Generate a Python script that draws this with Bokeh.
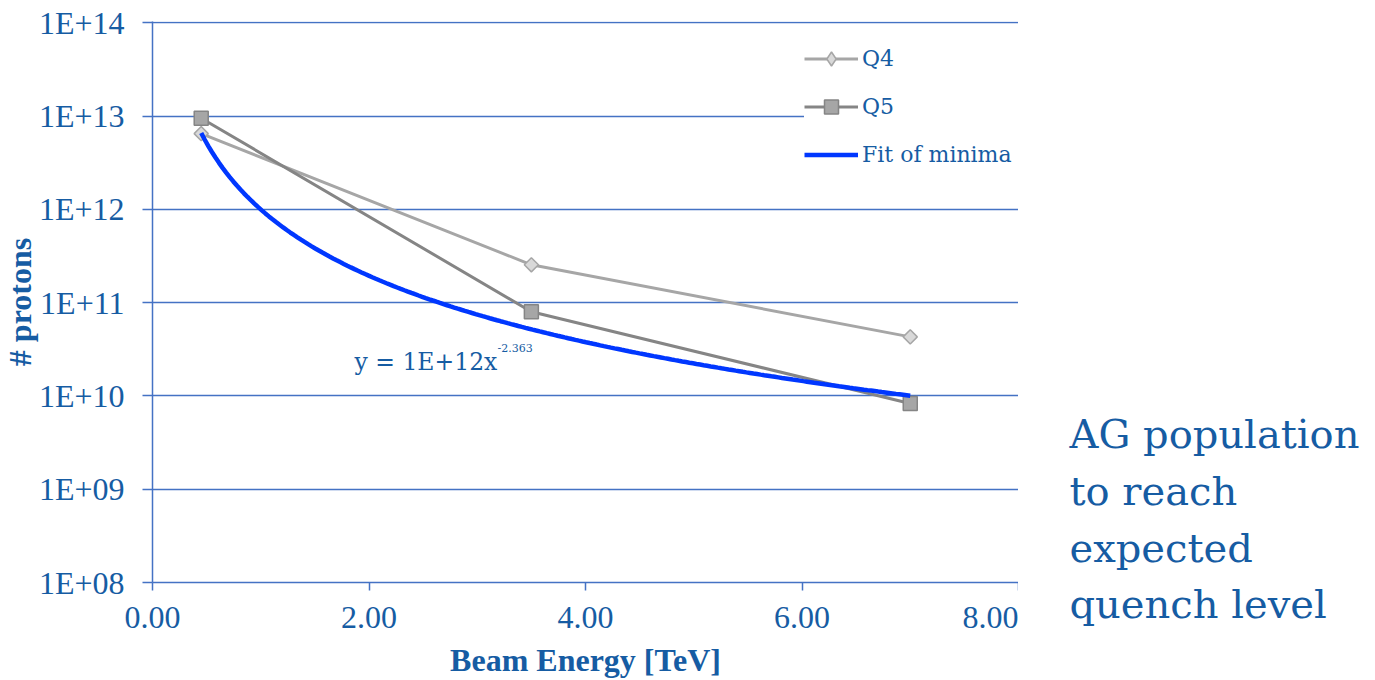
import numpy as np
from bokeh.plotting import figure
from bokeh.layouts import row
from bokeh.models import (FixedTicker, CustomJSTickFormatter, NumeralTickFormatter,
                          Label, Title, Legend, LegendItem)
from bokeh.embed import file_html
from bokeh.resources import INLINE

# ---- data ----
energy = [0.45, 3.5, 7.0]
q4 = [6.5e12, 2.55e11, 4.3e10]
q5 = [9.5e12, 8.0e10, 8.3e9]
fit_coef = 1e12
fit_exp = -2.363
fit_x_range = [0.45, 7.0]
y_ticks = [1e8, 1e9, 1e10, 1e11, 1e12, 1e13, 1e14]
x_ticks = [0, 2, 4, 6, 8]
side_text = ["AG population", "to reach", "expected", "quench level"]

fit_x = np.linspace(fit_x_range[0], fit_x_range[1], 200)
fit_y = fit_coef * fit_x ** fit_exp

TXT = "#165CA3"
GRID = "#4472C4"
SERIF = "Liberation Serif"
CAMB = "DejaVu Serif"

p = figure(width=1018, height=680, x_range=(0, 8), y_range=(1e8, 10 ** 14.015),
           y_axis_type="log", output_backend="svg", toolbar_location=None,
           min_border_left=152, min_border_right=0, min_border_top=21,
           min_border_bottom=98)
p.outline_line_color = None
p.background_fill_color = "white"
p.border_fill_color = "white"

p.xgrid.visible = False
p.ygrid.grid_line_color = GRID
p.ygrid.grid_line_width = 1.5
p.ygrid.ticker = FixedTicker(ticks=y_ticks)

# y axis
p.yaxis.ticker = FixedTicker(ticks=y_ticks, minor_ticks=[])
p.yaxis.formatter = CustomJSTickFormatter(
    code="return '1E+' + String(Math.round(Math.log10(tick))).padStart(2,'0');")
p.yaxis.axis_line_color = GRID
p.yaxis.axis_line_width = 1.5
p.yaxis.major_tick_line_color = GRID
p.yaxis.major_tick_line_width = 1.5
p.yaxis.major_tick_out = 10
p.yaxis.major_tick_in = 0
p.yaxis.minor_tick_line_color = None
p.yaxis.major_label_text_font = SERIF
p.yaxis.major_label_text_font_size = "32px"
p.yaxis.major_label_text_color = TXT
p.yaxis.major_label_standoff = 18

# x axis
p.xaxis.ticker = FixedTicker(ticks=x_ticks)
p.xaxis.formatter = NumeralTickFormatter(format="0.00")
p.xaxis.axis_line_color = GRID
p.xaxis.axis_line_width = 1.5
p.xaxis.major_tick_line_color = GRID
p.xaxis.major_tick_line_width = 1.5
p.xaxis.major_tick_out = 8
p.xaxis.major_tick_in = 0
p.xaxis.minor_tick_line_color = None
p.xaxis.major_label_text_font = SERIF
p.xaxis.major_label_text_font_size = "32px"
p.xaxis.major_label_text_color = TXT
p.xaxis.major_label_standoff = 16
p.xaxis.axis_label = "Beam Energy [TeV]"
p.xaxis.axis_label_text_font = SERIF
p.xaxis.axis_label_text_font_size = "32px"
p.xaxis.axis_label_text_font_style = "bold"
p.xaxis.axis_label_text_color = TXT
p.xaxis.axis_label_standoff = 11

# y axis title
p.add_layout(Title(text="# protons", align="center", text_font=SERIF,
                   text_font_size="32px", text_font_style="bold",
                   text_color=TXT, standoff=-4), "left")

# series
q4_line = p.line(energy, q4, line_color="#A6A6A6", line_width=3)
p.scatter(energy, q4, marker="square", angle=np.pi / 4, size=10,
          fill_color="#D9D9D9", line_color="#A6A6A6", line_width=1.5)
q4_leg = p.scatter([np.nan], [np.nan], marker="diamond", size=14,
                   fill_color="#D9D9D9", line_color="#A6A6A6", line_width=1.5)
q5_line = p.line(energy, q5, line_color="#858585", line_width=3)
q5_pts = p.scatter(energy, q5, marker="square", size=14,
                   fill_color="#A6A6A6", line_color="#858585", line_width=1.5)
fit_line = p.line(fit_x, fit_y, line_color="#0037FF", line_width=4.5)

leg = Legend(items=[LegendItem(label="Q4", renderers=[q4_line, q4_leg]),
                    LegendItem(label="Q5", renderers=[q5_line, q5_pts]),
                    LegendItem(label="Fit of minima", renderers=[fit_line])],
             location=(652, 406), margin=0, padding=4, spacing=4,
             glyph_width=54, glyph_height=35, label_height=44, label_standoff=4,
             label_width=156,
             border_line_color=None, background_fill_color="white",
             background_fill_alpha=1.0, label_text_font=CAMB,
             label_text_font_size="22px", label_text_color=TXT)
p.add_layout(leg)

# equation
p.add_layout(Label(x=1.866, y=10 ** 10.359, text="y = 1E+12x", text_align="left",
                   text_baseline="alphabetic", text_font=CAMB, text_font_size="23.5px",
                   text_color=TXT))
p.add_layout(Label(x=3.187, y=10 ** 10.515, text="-2.363", text_align="left",
                   text_baseline="alphabetic", text_font=CAMB, text_font_size="11px",
                   text_color=TXT))

# side text panel (own frame, not aligned with the main one)
s = figure(width=357, height=680, x_range=(1018, 1375), y_range=(680, 0),
           output_backend="svg", toolbar_location=None,
           x_axis_location=None, y_axis_location=None,
           min_border_left=0, min_border_right=0, min_border_top=0, min_border_bottom=0)
s.frame_align = False
s.outline_line_color = None
s.xgrid.visible = False
s.ygrid.visible = False
side_baselines = [433, 490, 547, 603]
for t, yy in zip(side_text, side_baselines):
    s.add_layout(Label(x=1069, y=yy, text=t, text_align="left",
                       text_baseline="alphabetic", text_font=CAMB,
                       text_font_size="40px", text_color=TXT))

open("out.html", "w").write(file_html(row(p, s, spacing=0), INLINE))
